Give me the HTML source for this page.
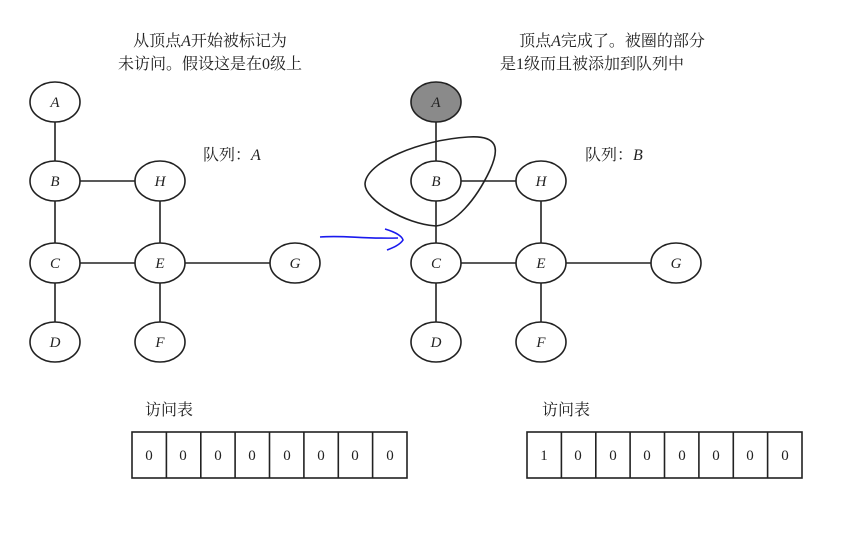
<!DOCTYPE html>
<html><head><meta charset="utf-8"><style>
body{margin:0;background:#fff;width:862px;height:542px;overflow:hidden}
svg{display:block}
.t{font-family:"Liberation Serif","Noto Serif CJK SC",serif;font-size:16px;fill:#222}
.n{font-family:"Liberation Serif",serif;font-style:italic;font-size:15px;fill:#222;text-anchor:middle}
.c{font-family:"Liberation Serif",serif;font-size:15px;fill:#222;text-anchor:middle}
ellipse{fill:#fff;stroke:#222;stroke-width:1.6}
line,rect,path{stroke:#222;stroke-width:1.6;fill:none}
</style></head><body>
<svg width="862" height="542" viewBox="0 0 862 542">
<text class="t" x="210" y="46" text-anchor="middle">从顶点<tspan font-style="italic">A</tspan>开始被标记为</text>
<text class="t" x="210" y="69" text-anchor="middle">未访问。假设这是在0级上</text>
<text class="t" x="612" y="46" text-anchor="middle">顶点<tspan font-style="italic">A</tspan>完成了。被圈的部分</text>
<text class="t" x="592" y="69" text-anchor="middle">是1级而且被添加到队列中</text>
<text class="t" x="203" y="160">队列：<tspan font-style="italic">A</tspan></text>
<text class="t" x="585" y="160">队列：<tspan font-style="italic">B</tspan></text>

<g>
<line x1="55" y1="102" x2="55" y2="342"/>
<line x1="55" y1="181" x2="160" y2="181"/>
<line x1="160" y1="181" x2="160" y2="342"/>
<line x1="55" y1="263" x2="295" y2="263"/>
</g>
<g transform="translate(381,0)">
<line x1="55" y1="102" x2="55" y2="342"/>
<line x1="55" y1="181" x2="160" y2="181"/>
<line x1="160" y1="181" x2="160" y2="342"/>
<line x1="55" y1="263" x2="295" y2="263"/>
</g>
<g>
<ellipse cx="55" cy="102" rx="25" ry="20"/><text class="n" x="55" y="107">A</text>
<ellipse cx="55" cy="181" rx="25" ry="20"/><text class="n" x="55" y="186">B</text>
<ellipse cx="160" cy="181" rx="25" ry="20"/><text class="n" x="160" y="186">H</text>
<ellipse cx="55" cy="263" rx="25" ry="20"/><text class="n" x="55" y="268">C</text>
<ellipse cx="160" cy="263" rx="25" ry="20"/><text class="n" x="160" y="268">E</text>
<ellipse cx="295" cy="263" rx="25" ry="20"/><text class="n" x="295" y="268">G</text>
<ellipse cx="55" cy="342" rx="25" ry="20"/><text class="n" x="55" y="347">D</text>
<ellipse cx="160" cy="342" rx="25" ry="20"/><text class="n" x="160" y="347">F</text>
</g>
<g transform="translate(381,0)">
<ellipse cx="55" cy="102" rx="25" ry="20" style="fill:#8a8a8a"/><text class="n" x="55" y="107">A</text>
<ellipse cx="55" cy="181" rx="25" ry="20"/><text class="n" x="55" y="186">B</text>
<ellipse cx="160" cy="181" rx="25" ry="20"/><text class="n" x="160" y="186">H</text>
<ellipse cx="55" cy="263" rx="25" ry="20"/><text class="n" x="55" y="268">C</text>
<ellipse cx="160" cy="263" rx="25" ry="20"/><text class="n" x="160" y="268">E</text>
<ellipse cx="295" cy="263" rx="25" ry="20"/><text class="n" x="295" y="268">G</text>
<ellipse cx="55" cy="342" rx="25" ry="20"/><text class="n" x="55" y="347">D</text>
<ellipse cx="160" cy="342" rx="25" ry="20"/><text class="n" x="160" y="347">F</text>
</g>
<path d="M436,226 C405,224 365,200 365,184 C366,162 420,140 468,137 C498,135 500,148 490,170 C476,200 455,224 436,226 Z"/>
<path d="M320,237 C345,235 360,239 398,238 M385,229 C395,232 402,236 403,240 C400,245 392,248 387,250" style="stroke:#1a1aee;stroke-width:1.6"/>

<text class="t" x="145" y="415">访问表</text>
<text class="t" x="542" y="415">访问表</text>
<g>
<rect x="132" y="432" width="275" height="46"/>
<line x1="166.4" y1="432" x2="166.4" y2="478"/><line x1="200.8" y1="432" x2="200.8" y2="478"/><line x1="235.1" y1="432" x2="235.1" y2="478"/><line x1="269.5" y1="432" x2="269.5" y2="478"/><line x1="303.9" y1="432" x2="303.9" y2="478"/><line x1="338.3" y1="432" x2="338.3" y2="478"/><line x1="372.6" y1="432" x2="372.6" y2="478"/>
<text class="c" x="149" y="460">0</text><text class="c" x="183" y="460">0</text><text class="c" x="218" y="460">0</text><text class="c" x="252" y="460">0</text><text class="c" x="287" y="460">0</text><text class="c" x="321" y="460">0</text><text class="c" x="355" y="460">0</text><text class="c" x="390" y="460">0</text>
</g>
<g transform="translate(395,0)">
<rect x="132" y="432" width="275" height="46"/>
<line x1="166.4" y1="432" x2="166.4" y2="478"/><line x1="200.8" y1="432" x2="200.8" y2="478"/><line x1="235.1" y1="432" x2="235.1" y2="478"/><line x1="269.5" y1="432" x2="269.5" y2="478"/><line x1="303.9" y1="432" x2="303.9" y2="478"/><line x1="338.3" y1="432" x2="338.3" y2="478"/><line x1="372.6" y1="432" x2="372.6" y2="478"/>
<text class="c" x="149" y="460">1</text><text class="c" x="183" y="460">0</text><text class="c" x="218" y="460">0</text><text class="c" x="252" y="460">0</text><text class="c" x="287" y="460">0</text><text class="c" x="321" y="460">0</text><text class="c" x="355" y="460">0</text><text class="c" x="390" y="460">0</text>
</g>
</svg>
</body></html>
